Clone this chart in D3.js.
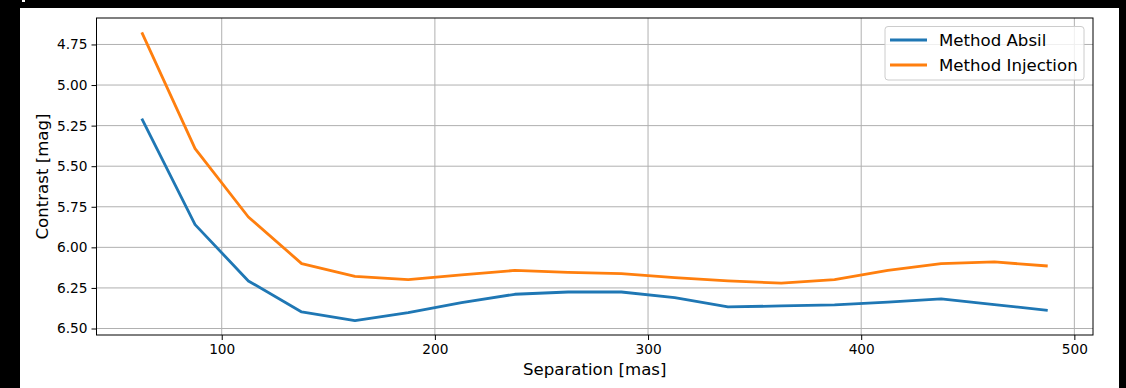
<!DOCTYPE html>
<html>
<head>
<meta charset="utf-8">
<script src="https://cdn.jsdelivr.net/npm/d3@7"></script>
<style>
  body { margin: 0; background: #000; }
  svg { display: block; font-family: "DejaVu Sans", sans-serif; }
</style>
</head>
<body>
<svg width="1126" height="388"></svg>
<script>
const svg = d3.select("svg");

// separation [mas]
const separation = [62.5, 87.5, 112.5, 137.5, 162.5, 187.5, 212.5, 237.5, 262.5,
                    287.5, 312.5, 337.5, 362.5, 387.5, 412.5, 437.5, 462.5, 487.5];
// contrast [mag] per method
const absil = [5.207, 5.860, 6.207, 6.398, 6.452, 6.402, 6.341, 6.289, 6.275,
               6.275, 6.310, 6.367, 6.361, 6.355, 6.338, 6.318, 6.353, 6.388];
const injection = [4.676, 5.392, 5.813, 6.100, 6.179, 6.199, 6.170, 6.142, 6.154,
                   6.162, 6.187, 6.207, 6.220, 6.199, 6.142, 6.100, 6.090, 6.115];
const xTicks = [100, 200, 300, 400, 500];
const yTicks = [4.75, 5.00, 5.25, 5.50, 5.75, 6.00, 6.25, 6.50];

const series = [
  { name: "Method Absil", values: absil, color: "#1f77b4" },
  { name: "Method Injection", values: injection, color: "#ff7f0e" }
];

// figure background (black frame around a white figure)
svg.append("rect").attr("width", 1126).attr("height", 388).attr("fill", "#000");
svg.append("rect").attr("x", 20).attr("y", 8).attr("width", 1099).attr("height", 380).attr("fill", "#fff");
svg.append("rect").attr("x", 22).attr("y", 0).attr("width", 3).attr("height", 2).attr("fill", "#fff");

const plot = { left: 96.5, top: 18, right: 1093, bottom: 335 };

const x = d3.scaleLinear().domain([41.25, 508.75]).range([plot.left, plot.right]);
const y = d3.scaleLinear().domain([4.587, 6.540]).range([plot.top, plot.bottom]);

const g = svg.append("g");

// grid
g.selectAll(".gx").data(xTicks).enter().append("line")
  .attr("x1", d => x(d)).attr("x2", d => x(d))
  .attr("y1", plot.top).attr("y2", plot.bottom)
  .attr("stroke", "#b0b0b0").attr("stroke-width", 1);
g.selectAll(".gy").data(yTicks).enter().append("line")
  .attr("x1", plot.left).attr("x2", plot.right)
  .attr("y1", d => y(d)).attr("y2", d => y(d))
  .attr("stroke", "#b0b0b0").attr("stroke-width", 1);

// lines
const line = d3.line().x((d, i) => x(separation[i])).y(d => y(d));
series.forEach(s => {
  g.append("path").datum(s.values)
    .attr("d", line)
    .attr("fill", "none")
    .attr("stroke", s.color)
    .attr("stroke-width", 2.8)
    .attr("stroke-linejoin", "round");
});

// axes
const xAxis = d3.axisBottom(x).tickValues(xTicks).tickSize(5).tickPadding(4).tickFormat(d3.format("d"));
const yAxis = d3.axisLeft(y).tickValues(yTicks).tickSize(5).tickPadding(4).tickFormat(d3.format(".2f"));

const gx = svg.append("g").attr("transform", `translate(0,${plot.bottom})`).call(xAxis);
const gy = svg.append("g").attr("transform", `translate(${plot.left},0)`).call(yAxis);
[gx, gy].forEach(a => {
  a.select(".domain").remove();
  a.selectAll("text").attr("font-size", 13.7).attr("fill", "#000").attr("font-family", "DejaVu Sans");
  a.selectAll("line").attr("stroke", "#000").attr("stroke-width", 1);
});

// spines
svg.append("rect")
  .attr("x", plot.left).attr("y", plot.top)
  .attr("width", plot.right - plot.left).attr("height", plot.bottom - plot.top)
  .attr("fill", "none").attr("stroke", "#000").attr("stroke-width", 1);

// axis labels
svg.append("text")
  .attr("x", (plot.left + plot.right) / 2).attr("y", 375)
  .attr("text-anchor", "middle").attr("font-size", 16.6)
  .text("Separation [mas]");
svg.append("text")
  .attr("transform", `translate(48,${(plot.top + plot.bottom) / 2}) rotate(-90)`)
  .attr("text-anchor", "middle").attr("font-size", 16.6)
  .text("Contrast [mag]");

// legend
const lg = svg.append("g");
lg.append("rect")
  .attr("x", 885).attr("y", 26.5).attr("width", 199).attr("height", 53.5)
  .attr("rx", 3).attr("fill", "#fff").attr("fill-opacity", 0.8)
  .attr("stroke", "#cccccc").attr("stroke-width", 1);
series.forEach((s, i) => {
  const ly = 40 + i * 25;
  lg.append("line")
    .attr("x1", 890).attr("x2", 927).attr("y1", ly).attr("y2", ly)
    .attr("stroke", s.color).attr("stroke-width", 2.8);
  lg.append("text")
    .attr("x", 939).attr("y", ly + 5.5)
    .attr("font-size", 16.6)
    .text(s.name);
});
</script>
</body>
</html>
